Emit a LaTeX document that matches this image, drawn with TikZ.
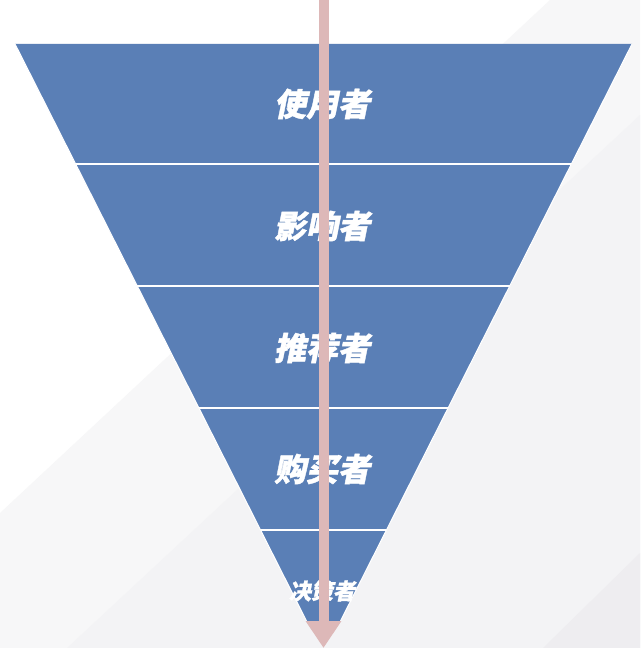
\documentclass[tikz,border=0pt]{standalone}
\usepackage{fontspec}
\newfontfamily\cjkfont[FakeSlant=0.2,BoldFeatures={FakeBold=1.2}]{Noto Sans CJK SC}
\usepackage{xcolor}
\usepackage{tikz}
\usetikzlibrary{arrows.meta,positioning,calc}
\definecolor{FunnelBlue}{HTML}{5A7FB6}
\definecolor{FunnelPink}{HTML}{DDB8B8}
\definecolor{BgGrayA}{HTML}{F7F7F8}
\definecolor{BgGrayB}{HTML}{F3F3F5}
\definecolor{BgGrayC}{HTML}{EEEDF0}

\tikzset{
  role/.style={text=white,font=\cjkfont\bfseries\fontsize{24}{24}\selectfont,inner sep=0pt},
  band line/.style={white,line width=1.5pt},
}

\begin{document}
\begin{tikzpicture}[x=0.75pt,y=-0.75pt]
  \useasboundingbox (0,0) rectangle (640,648);
  % background
  \fill[white] (0,0) rectangle (640,648);
  \fill[BgGrayA] (550,0) -- (640,0) -- (640,648) -- (0,648) -- (0,513) -- cycle;
  \fill[BgGrayB] (640,115) -- (640,648) -- (67,648) -- cycle;
  \fill[BgGrayC] (640,553) -- (640,648) -- (543,648) -- cycle;
  % funnel, cut where the arrow head starts
  \fill[FunnelBlue] (15,44) -- (632,44) -- (340.5,621) -- (306.5,621) -- cycle;
  \begin{scope}
    \clip (15,44) -- (632,44) -- (340.5,621) -- (306.5,621) -- cycle;
    \foreach \y in {164,286,408,530}
      \draw[band line] (0,\y) -- (640,\y);
  \end{scope}
  \draw[white,line width=0.8pt] (15,44) -- (306.5,621) (632,44) -- (340.5,621);
  % labels
  \node[role] (user) at (322,104) {使用者};
  \node[role] (influencer) at (322,226) {影响者};
  \node[role] (recommender) at (322,348) {推荐者};
  \node[role] (buyer) at (322,469) {购买者};
  \node[role,font=\cjkfont\bfseries\fontsize{16.5}{16.5}\selectfont] (decider) at (322,591) {决策者};
  % arrow
  \coordinate (arrtop) at (323.5,0);
  \coordinate (arrtip) at (323.5,648);
  \draw[FunnelPink,line width=7.5pt,-{Triangle[width=25.5pt,length=20.25pt]}] (arrtop) -- (arrtip);
\end{tikzpicture}
\end{document}
